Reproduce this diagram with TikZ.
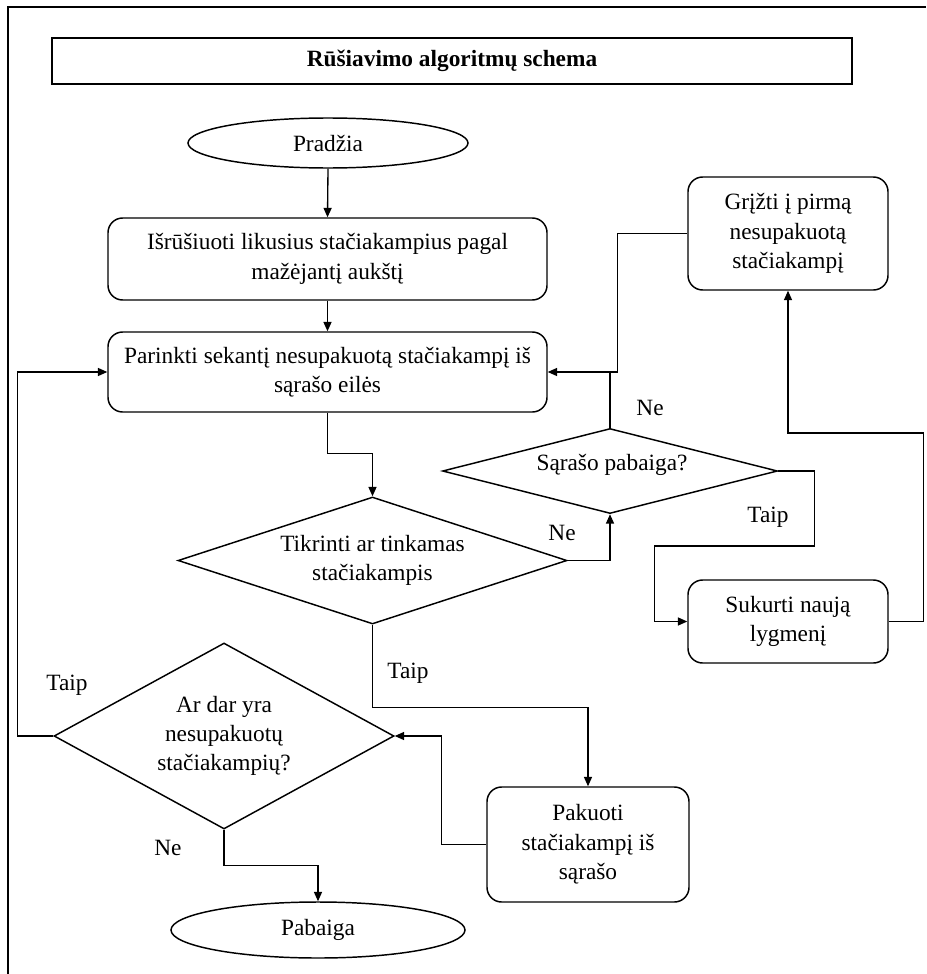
\documentclass[tikz,border=0pt]{standalone}
\usepackage{fontspec}
\setmainfont{Liberation Serif}
\usetikzlibrary{shapes.geometric,arrows.meta}
\newcommand{\myfs}{\fontsize{17.5}{22}\selectfont}
\begin{document}
\begin{tikzpicture}[x=0.75pt,y=-0.75pt,
  box/.style={draw, rounded corners=11pt, line width=1.1pt, align=center, inner sep=0pt, font=\myfs},
  term/.style={draw, ellipse, line width=1.1pt, inner sep=0pt, font=\myfs},
  dia/.style={draw, diamond, line width=1.1pt, inner sep=0pt},
  txt/.style={align=center, font=\myfs, inner sep=0pt},
  lbl/.style={font=\myfs, inner sep=0pt},
  ln/.style={line width=1pt},
  arr/.style={line width=1pt, -{Triangle[length=7pt,width=6pt]}}]
\useasboundingbox (0,0) rectangle (926,974);
% frame
\draw[line width=1pt] (8,974) -- (8,7) -- (926,7);
% title
\node[draw, line width=1.1pt, minimum width=600pt, minimum height=34.5pt, inner sep=0pt, font=\myfs\bfseries] (title) at (452,61) {Rūšiavimo algoritmų schema};
% nodes
\node[term, minimum width=210pt, minimum height=37.5pt] (start) at (328,143) {Pradžia};
\node[box, minimum width=329.25pt, minimum height=61.5pt] (b1) at (327.5,259) {Išrūšiuoti likusius stačiakampius pagal\\mažėjantį aukštį};
\node[box, minimum width=329.25pt, minimum height=60pt] (b2) at (327.5,372) {Parinkti sekantį nesupakuotą stačiakampį iš\\sąrašo eilės};
\node[dia, minimum width=291.75pt, minimum height=95.25pt] (d1) at (372.5,560.5) {};
\node[txt] (d1t) at (d1) {Tikrinti ar tinkamas\\stačiakampis};
\node[dia, minimum width=251.25pt, minimum height=63.75pt] (d2) at (610,471) {};
\node[txt] (d2t) at (612,465) {Sąrašo pabaiga?};
\node[box, minimum width=150pt, minimum height=84.75pt] (grizti) at (788,233.5) {Grįžti į pirmą\\nesupakuotą\\stačiakampį};
\node[box, minimum width=150pt, minimum height=62.25pt] (sukurti) at (788,621.5) {Sukurti naują\\lygmenį};
\node[dia, minimum width=255pt, minimum height=139.5pt] (d3) at (224,736) {};
\node[txt] (d3t) at (d3) {Ar dar yra\\nesupakuotų\\stačiakampių?};
\node[box, minimum width=151.5pt, minimum height=86.25pt] (pak) at (588,844.5) {Pakuoti\\stačiakampį iš\\sąrašo};
\node[term, minimum width=220.5pt, minimum height=42pt] (end) at (318,930) {Pabaiga};
% connectors
\draw[arr] (start.south) -- (b1.north);
\draw[arr] (b1.south) -- (b2.north);
\draw[arr] (b2.south) -- ++(0,41) -| (d1.north);
\draw[arr] (d1.east) -| (d2.south);
\draw[ln] (d2.north) -- (d2.north |- b2.east);
\draw[arr] (grizti.west) -- ++(-70,0) |- (b2.east);
\draw[arr] (d2.east) -- ++(36,0) -- ++(0,75) -- ++(-160,0) |- (sukurti.west);
\draw[arr] (sukurti.east) -- ++(35,0) -- ++(0,-188.5) -| (grizti.south);
\draw[arr] (d1.south) -- ++(0,83) -| (pak.north);
\draw[arr] (pak.west) -- ++(-45,0) |- (d3.east);
\draw[arr] (d3.west) -- ++(-36,0) |- (b2.west);
\draw[arr] (d3.south) -- ++(0,36) -| (end.north);
% labels
\node[lbl] (l1) at (562,533) {Ne};
\node[lbl] (l2) at (650,408) {Ne};
\node[lbl] (l3) at (768,517) {Taip};
\node[lbl] (l4) at (408,673) {Taip};
\node[lbl] (l5) at (67,685) {Taip};
\node[lbl] (l6) at (168,848) {Ne};
\end{tikzpicture}
\end{document}
